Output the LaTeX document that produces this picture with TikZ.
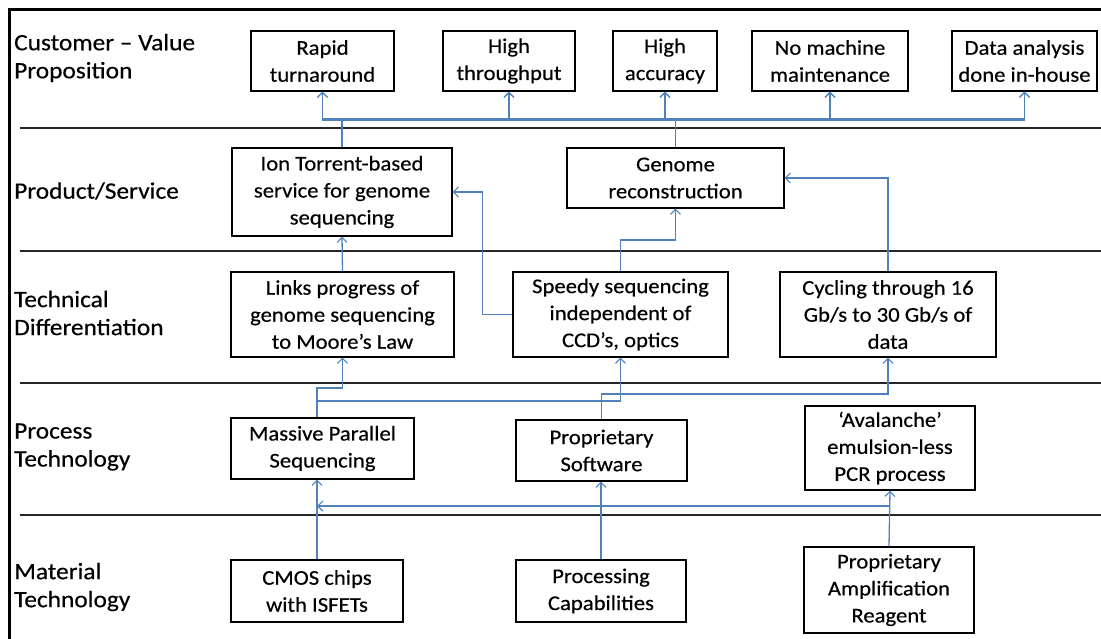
\documentclass[tikz,border=0pt]{standalone}
\usepackage{fontspec}
\setmainfont{Carlito}[FakeStretch=1.08,FakeBold=0.4]
\usetikzlibrary{arrows.meta,calc}
\definecolor{linkblue}{RGB}{79,129,189}
\begin{document}
\begin{tikzpicture}[x=1pt,y=-1pt,
  box/.style={draw=black,line width=1.3pt,align=center,inner sep=0pt,
    font=\fontsize{21}{27}\selectfont},
  lbl/.style={anchor=west,align=left,inner sep=0pt,
    font=\fontsize{23.5}{28}\selectfont},
  link/.style={draw=linkblue,line width=1.3pt,
    -{Straight Barb[length=5pt,width=10pt,line width=1.1pt]}},
  sep/.style={line width=1.6pt,draw=black!85}]
\useasboundingbox (0,0) rectangle (1101,638);

% outer frame (left and top edges)
\draw[line width=3pt] (9,645) -- (9,9) -- (1110,9);

% layer separators
\draw[sep] (20,128) -- (1110,128);
\draw[sep] (20,251) -- (1110,251);
\draw[sep] (20,383) -- (1110,383);
\draw[sep] (20,515) -- (1110,515);

% layer labels
\node[lbl] (l1) at (14,58) {Customer – Value\\Proposition};
\node[lbl] (l2) at (14,191) {Product/Service};
\node[lbl] (l3) at (14,313) {Technical\\Differentiation};
\node[lbl] (l4) at (14,447) {Process\\Technology};
\node[lbl] (l5) at (14,587) {Material\\Technology};

% customer value
\node[box,minimum width=143pt,minimum height=60pt] (v1) at (322.5,61) {Rapid\\turnaround};
\node[box,minimum width=132pt,minimum height=60pt] (v2) at (509,61) {High\\throughput};
\node[box,minimum width=104pt,minimum height=60pt] (v3) at (665,61) {High\\accuracy};
\node[box,minimum width=156pt,minimum height=60pt] (v4) at (830,61) {No machine\\maintenance};
\node[box,minimum width=145pt,minimum height=60pt] (v5) at (1024.5,61) {Data analysis\\done in-house};

% product / service
\node[box,minimum width=220pt,minimum height=88pt] (ion) at (342,192) {Ion Torrent-based\\service for genome\\sequencing};
\node[box,minimum width=217pt,minimum height=60pt] (gen) at (675.5,178) {Genome\\reconstruction};

% technical differentiation
\node[box,minimum width=223pt,minimum height=85pt] (links) at (342.5,314.5) {Links progress of\\genome sequencing\\to Moore’s Law};
\node[box,minimum width=215pt,minimum height=85pt] (speedy) at (620.5,314.5) {Speedy sequencing\\independent of\\CCD’s, optics};
\node[box,minimum width=216pt,minimum height=85pt] (cyc) at (888,314.5) {Cycling through 16\\Gb/s to 30 Gb/s of\\data};

% process technology
\node[box,minimum width=183pt,minimum height=61pt] (mps) at (322.5,448.5) {Massive Parallel\\Sequencing};
\node[box,minimum width=171pt,minimum height=61pt] (soft) at (601.5,450.5) {Proprietary\\Software};
\node[box,minimum width=170pt,minimum height=84pt] (aval) at (890,448) {‘Avalanche’\\emulsion-less\\PCR process};

% material technology
\node[box,minimum width=172pt,minimum height=62pt] (cmos) at (317,591) {CMOS chips\\with ISFETs};
\node[box,minimum width=170pt,minimum height=62pt] (proc) at (601,591) {Processing\\Capabilities};
\node[box,minimum width=170pt,minimum height=86pt] (reag) at (889,590) {Proprietary\\Amplification\\Reagent};

% elbow heights
\coordinate (busA) at (0,120.5);
\coordinate (busB) at (0,119);
\coordinate (busC) at (0,240);
\coordinate (busD) at (0,388);
\coordinate (busE) at (0,401);
\coordinate (busF) at (0,394);
\coordinate (busG) at (0,506);

% product -> customer value
\foreach \v in {v1,v2,v3,v4,v5} {
  \draw[link] (ion.north) -- (ion.north |- busA) -| (\v.south);
  \draw[link] (gen.north) -- (gen.north |- busB) -| (\v.south);
}

% technical -> product
\draw[link] (links.north) -- (ion.south);
\draw[link] (speedy.west) -- ++(-30,0) |- (ion.east);
\draw[link] (speedy.north) -- (speedy.north |- busC) -| (gen.south);
\draw[link] (cyc.north) |- (gen.east);

% process -> technical
\draw[link] (cmos.north |- mps.north) -- (cmos.north |- busD) -| (links.south);
\draw[link] (cmos.north |- mps.north) -- (cmos.north |- busE) -| (speedy.south);
\draw[link] (soft.north) -- (soft.north |- busF) -| (cyc.south);

% material -> process
\draw[link] (cmos.north) -- (cmos.north |- mps.south);
\draw[link] (proc.north) -- (proc.north |- soft.south);
\draw[link] (reag.north) -- (aval.south);
\draw[link] (reag.north |- busG) -- (cmos.north |- busG);
\end{tikzpicture}
\end{document}
